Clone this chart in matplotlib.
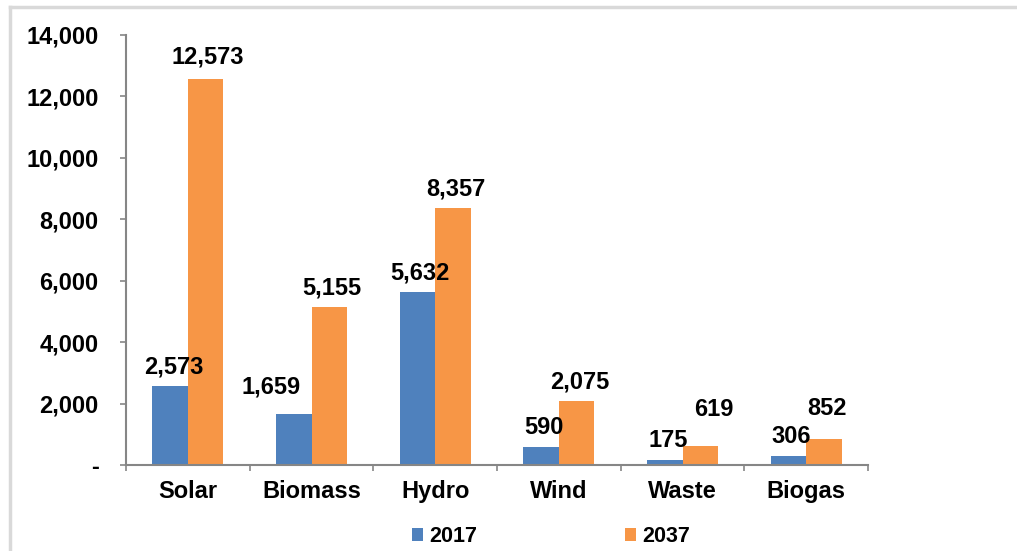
import numpy as np
import matplotlib.pyplot as plt
from matplotlib.lines import Line2D
from matplotlib.ticker import FuncFormatter, FixedLocator

plt.rcParams['font.family'] = ['Liberation Sans', 'DejaVu Sans']
plt.rcParams['font.weight'] = 'bold'

categories = ['Solar', 'Biomass', 'Hydro', 'Wind', 'Waste', 'Biogas']
values_2017 = [2573, 1659, 5632, 590, 175, 306]
values_2037 = [12573, 5155, 8357, 2075, 619, 852]
series_labels = ['2017', '2037']

BLUE = '#4F81BD'
ORANGE = '#F79646'
AXIS_GREY = '#868686'
FS = 17

# label placement tweaks (pixels: dx, dy of label centre above bar top)
DEFAULT_NUDGE = (3, 21)
LABEL_NUDGE = {
    (0, 0): (4, 21),
    (1, 0): (2, 24),
    (0, 1): (-23, 29),
    (1, 4): (14, 39),
    (1, 5): (3, 32),
}

fig = plt.figure(figsize=(10.17, 5.51), dpi=100)
ax = fig.add_axes([0.1239, 0.156, 0.7296, 0.7805])

x = np.arange(len(categories))
w = 0.287
b1 = ax.bar(x - w / 2, values_2017, w, color=BLUE, label=series_labels[0])
b2 = ax.bar(x + w / 2, values_2037, w, color=ORANGE, label=series_labels[1])

px = 72 / fig.dpi
for si, bars in enumerate((b1, b2)):
    for ci, rect in enumerate(bars):
        v = rect.get_height()
        dx, dy = LABEL_NUDGE.get((si, ci), DEFAULT_NUDGE)
        ax.annotate(f"{v:,.0f}", (rect.get_x() + rect.get_width() / 2, v),
                    xytext=(dx * px, (dy - 2) * px), textcoords='offset points',
                    ha='center', va='center', fontsize=FS, fontweight='bold')

ax.set_xlim(-0.5, len(categories) - 0.5)
ax.set_ylim(0, 14000)
ax.set_yticks(np.arange(0, 14001, 2000))
ax.yaxis.set_major_formatter(FuncFormatter(lambda v, p: '-' if v == 0 else f"{v:,.0f}"))
ax.set_xticks(x)
ax.set_xticklabels(categories)
ax.xaxis.set_minor_locator(FixedLocator(np.arange(-0.5, len(categories), 1.0)))

ax.tick_params(axis='y', direction='out', length=4.3, width=1.2, color=AXIS_GREY,
               labelsize=FS, pad=15.5)
ax.tick_params(axis='x', which='major', length=0, labelsize=FS, pad=11)
ax.tick_params(axis='x', which='minor', direction='out', length=4.3, width=1.2,
               color=AXIS_GREY)
for lab in ax.get_xticklabels() + ax.get_yticklabels():
    lab.set_fontweight('bold')

for s in ['top', 'right']:
    ax.spines[s].set_visible(False)
for s in ['left', 'bottom']:
    ax.spines[s].set_color(AXIS_GREY)
    ax.spines[s].set_linewidth(1.5)

fig.legend(handles=[b1, b2], labels=series_labels, loc='center',
           bbox_to_anchor=(0.542, 0.026), ncol=2, frameon=False,
           prop={'size': 15.5, 'weight': 'bold'}, handlelength=0.5,
           handleheight=0.5, handletextpad=0.3, columnspacing=6.85)

# outer chart frame (partially cropped in the reference)
fig.add_artist(Line2D([10 / 1017, 10 / 1017], [0, 1 - 7 / 551],
                      transform=fig.transFigure, color='#D9D9D9', lw=2.5))
fig.add_artist(Line2D([10 / 1017, 1], [1 - 7 / 551, 1 - 7 / 551],
                      transform=fig.transFigure, color='#D9D9D9', lw=2.5))

fig.savefig('out.png', dpi=100)
